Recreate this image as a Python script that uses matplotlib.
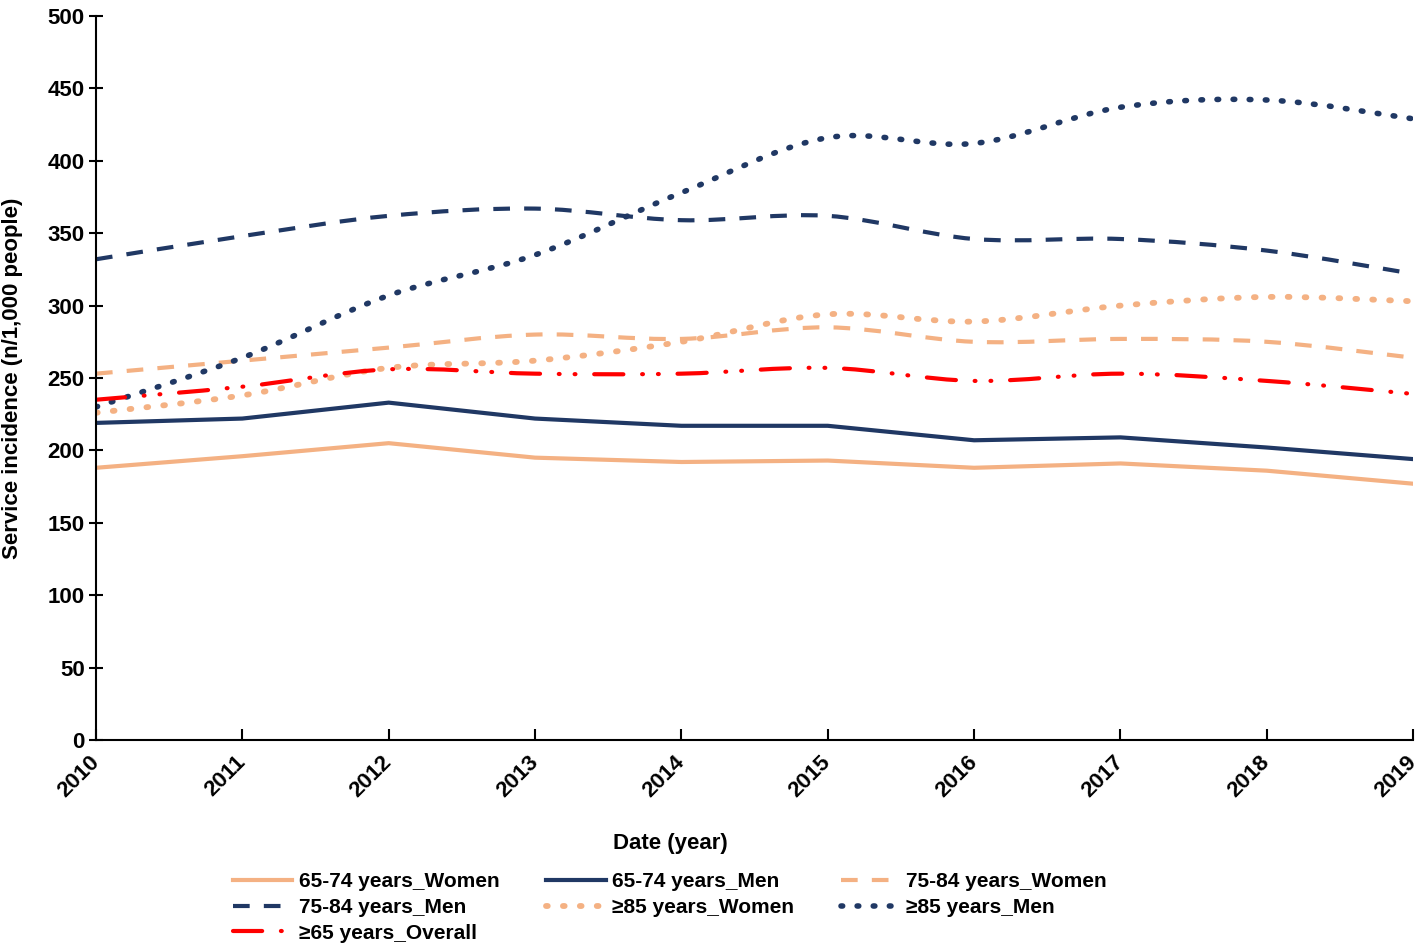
import matplotlib
matplotlib.use("Agg")
import matplotlib.pyplot as plt
from matplotlib.path import Path
import matplotlib.patches as patches
from matplotlib.lines import Line2D

years = [2010, 2011, 2012, 2013, 2014, 2015, 2016, 2017, 2018, 2019]

w65 = [188, 196, 205, 195, 192, 193, 188, 191, 186, 177]
m65 = [219, 222, 233, 222, 217, 217, 207, 209, 202, 194]
w75 = [253, 262, 271, 280, 277, 285, 275, 277, 275, 264]
m75 = [332, 348, 362, 367, 359, 362, 346, 346, 338, 322]
w85 = [226, 238, 257, 262, 275, 294, 289, 300, 306, 303]
m85 = [230, 264, 307, 335, 378, 416, 412, 437, 442, 429]
overall = [235, 244, 256, 253, 253, 257, 248, 253, 248, 239]

NAVY = '#203864'
PEACH = '#F4B183'
RED = '#FF0000'

plt.rcParams['font.family'] = ['Liberation Sans', 'DejaVu Sans']
plt.rcParams['font.weight'] = 'bold'


def smooth_path(xs, ys):
    # excel style smoothed line: catmull-rom segments as cubic beziers
    pts = list(zip(xs, ys))
    n = len(pts)
    verts = [pts[0]]
    codes = [Path.MOVETO]
    for i in range(n - 1):
        p0 = pts[i - 1] if i > 0 else pts[i]
        p1 = pts[i]
        p2 = pts[i + 1]
        p3 = pts[i + 2] if i + 2 < n else pts[i + 1]
        c1 = (p1[0] + (p2[0] - p0[0]) / 6, p1[1] + (p2[1] - p0[1]) / 6)
        c2 = (p2[0] - (p3[0] - p1[0]) / 6, p2[1] - (p3[1] - p1[1]) / 6)
        verts += [c1, c2, p2]
        codes += [Path.CURVE4, Path.CURVE4, Path.CURVE4]
    return Path(verts, codes)


fig = plt.figure(figsize=(14.24, 9.48), dpi=100)
ax = fig.add_axes([0.0674, 0.2194, 0.925, 0.7637])

ax.plot(years, w65, color=PEACH, lw=3, solid_capstyle='butt')
ax.plot(years, m65, color=NAVY, lw=3, solid_capstyle='butt')

dash_ls = (0, (4, 3.4))
dot_ls = (0, (0.3, 2.6))
dashdot_ls = (0, (7, 4.5, 0.2, 3.6, 0.2, 4.5))

smoothed = [
    (w75, PEACH, 3, dash_ls, 'butt'),
    (m75, NAVY, 3, dash_ls, 'butt'),
    (w85, PEACH, 4.2, dot_ls, 'round'),
    (m85, NAVY, 4.0, dot_ls, 'round'),
    (overall, RED, 3, dashdot_ls, 'round'),
]
for vals, col, lw, ls, cap in smoothed:
    patch = patches.PathPatch(smooth_path(years, vals), facecolor='none',
                              edgecolor=col, lw=lw, linestyle=ls)
    patch.set_capstyle(cap)
    ax.add_patch(patch)

ax.set_xlim(2010, 2019)
ax.set_ylim(0, 500)
ax.set_xticks(years)
ax.set_yticks(range(0, 501, 50))
ax.spines['top'].set_visible(False)
ax.spines['right'].set_visible(False)
ax.spines['left'].set_linewidth(1.5)
ax.spines['bottom'].set_linewidth(1.5)
ax.tick_params(axis='y', direction='inout', length=10, width=1.5, labelsize=16, pad=3)
ax.tick_params(axis='x', direction='in', length=8, width=1.5, labelsize=16, pad=14)
for lbl in ax.get_xticklabels():
    lbl.set_rotation(45)
    lbl.set_ha('right')
    lbl.set_va('center')
    lbl.set_rotation_mode('anchor')
    lbl.set_fontweight('bold')
for lbl in ax.get_yticklabels():
    lbl.set_fontweight('bold')

ax.set_ylabel('Service incidence (n/1,000 people)', fontsize=16, fontweight='bold', labelpad=18)
fig.text(670 / 1424, 1 - 843 / 948, 'Date (year)', fontsize=16, fontweight='bold',
         ha='center', va='center')

h_w65 = Line2D([], [], color=PEACH, lw=3)
h_m65 = Line2D([], [], color=NAVY, lw=3)
h_w75 = Line2D([], [], color=PEACH, lw=3, linestyle=dash_ls)
h_m75 = Line2D([], [], color=NAVY, lw=3, linestyle=dash_ls)
h_w85 = Line2D([], [], color=PEACH, lw=4.2, linestyle=dot_ls, dash_capstyle='round')
h_m85 = Line2D([], [], color=NAVY, lw=4.0, linestyle=dot_ls, dash_capstyle='round')
h_all = Line2D([], [], color=RED, lw=3, linestyle=dashdot_ls, dash_capstyle='round')

handles = [h_w65, h_m75, h_all, h_m65, h_w85, h_w75, h_m85]
labels = ['65-74 years_Women', '75-84 years_Men', '≥65 years_Overall',
          '65-74 years_Men', '≥85 years_Women', '75-84 years_Women', '≥85 years_Men']
fig.legend(handles, labels, ncol=3, loc='upper left',
           bbox_to_anchor=(233 / 1424, 1 - 872 / 948), frameon=False,
           prop={'weight': 'bold', 'size': 15},
           handlelength=2.85, handletextpad=0.3, columnspacing=2.25,
           labelspacing=0.33, borderpad=0, borderaxespad=0)

fig.savefig('out.png', dpi=100)
